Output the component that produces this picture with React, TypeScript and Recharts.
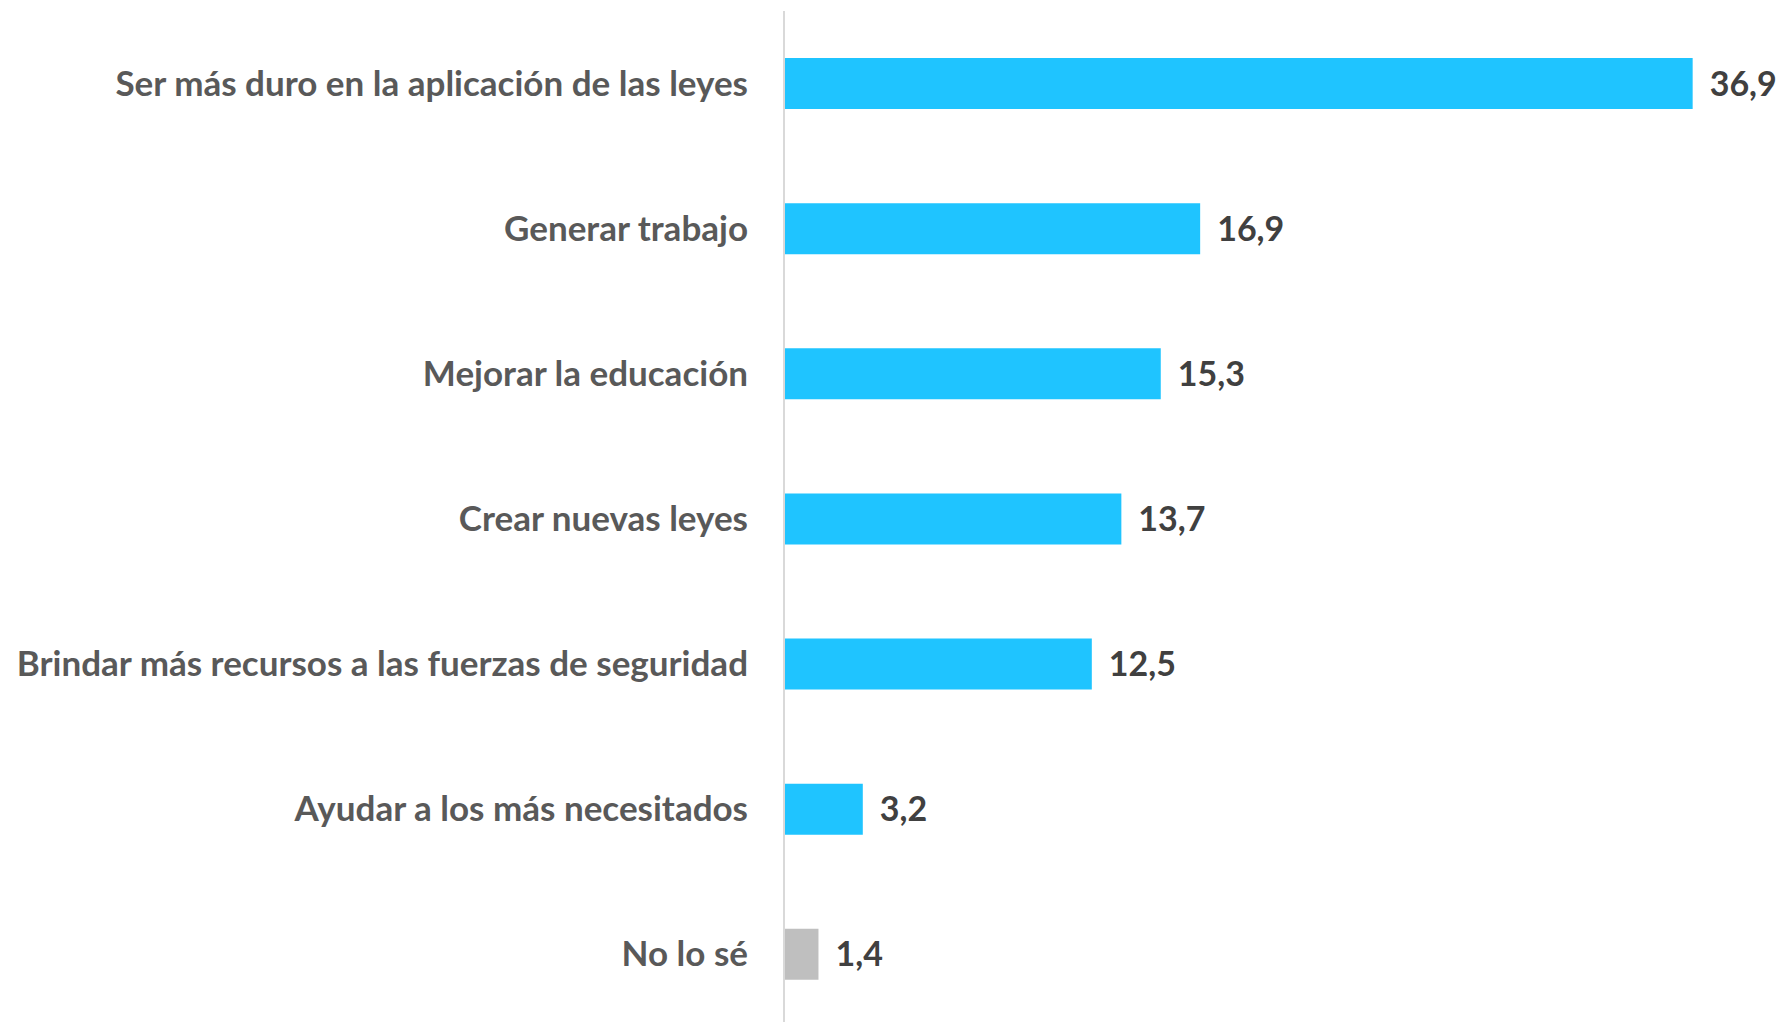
import { BarChart, Bar, XAxis, YAxis, Cell, LabelList } from "recharts";

const categories = [
  "Ser más duro en la aplicación de las leyes",
  "Generar trabajo",
  "Mejorar la educación",
  "Crear nuevas leyes",
  "Brindar más recursos a las fuerzas de seguridad",
  "Ayudar a los más necesitados",
  "No lo sé",
];
const values = [36.9, 16.9, 15.3, 13.7, 12.5, 3.2, 1.4];
const colors = ["#1FC4FF", "#1FC4FF", "#1FC4FF", "#1FC4FF", "#1FC4FF", "#1FC4FF", "#BFBFBF"];

const FONT = "Lato, 'Open Sans', sans-serif";

function CategoryTick(props: any) {
  const { x, y, payload } = props;
  return (
    <text
      x={x}
      y={y}
      dy={12}
      textAnchor="end"
      fill="#595959"
      fontSize={35}
      fontWeight={700}
      fontFamily={FONT}
    >
      {payload.value}
    </text>
  );
}

export default function App() {
  const data = categories.map((c, i) => ({ name: c, value: values[i] }));

  return (
    <div style={{ position: "absolute", left: 0, top: 0, width: 1781, height: 1022, overflow: "hidden", background: "#fff" }}>
      <BarChart
        width={1781}
        height={1030}
        data={data}
        layout="vertical"
        margin={{ top: 11, right: 12, bottom: 3, left: 0 }}
        barSize={51}
      >
        <XAxis type="number" domain={[0, 40]} hide />
        <YAxis
          type="category"
          dataKey="name"
          width={784}
          axisLine={{ stroke: "#D9D9D9", strokeWidth: 2 }}
          tickLine={false}
          tickMargin={30}
          tick={<CategoryTick />}
        />
        <Bar dataKey="value" isAnimationActive={false}>
          {data.map((d, i) => (
            <Cell key={d.name} fill={colors[i]} />
          ))}
          <LabelList
            dataKey="value"
            position="right"
            offset={17}
            formatter={(v: any) => String(v).replace(".", ",")}
            fill="#404040"
            fontSize={34}
            fontWeight={700}
            fontFamily={FONT}
          />
        </Bar>
      </BarChart>
    </div>
  );
}
